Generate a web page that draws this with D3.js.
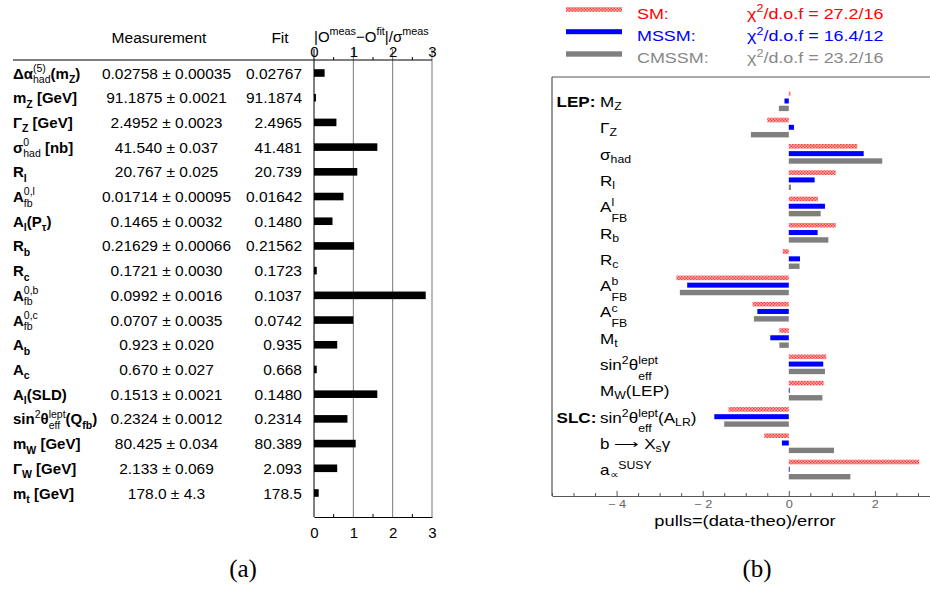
<!DOCTYPE html>
<html lang="en">
<head>
<meta charset="UTF-8">
<script src="https://d3js.org/d3.v7.min.js"></script>
<style>
    body {margin: 0; background: #ffffff}
    svg {display: block; font-family: "Liberation Sans", Arial, sans-serif}
    text {white-space: pre}
</style>
</head>
<body>
<svg id="chart" width="930" height="589"></svg>
<script>
// ---- (a) electroweak observables: measurement, fit, |pull| ----
const obsNames = [
    "Δα^{(5)}_{had}(m_{Z})", "m_{Z} [GeV]", "Γ_{Z} [GeV]", "σ^{0}_{had} [nb]", "R_{l}",
    "A^{0,l}_{fb}", "A_{l}(P_{τ})", "R_{b}", "R_{c}", "A^{0,b}_{fb}", "A^{0,c}_{fb}",
    "A_{b}", "A_{c}", "A_{l}(SLD)", "sin^{2}θ^{lept}_{eff}(Q_{fb})", "m_{W} [GeV]",
    "Γ_{W} [GeV]", "m_{t} [GeV]"
];
const measValue = ["0.02758", "91.1875", "2.4952", "41.540", "20.767", "0.01714", "0.1465",
    "0.21629", "0.1721", "0.0992", "0.0707", "0.923", "0.670", "0.1513", "0.2324",
    "80.425", "2.133", "178.0"];
const measError = ["0.00035", "0.0021", "0.0023", "0.037", "0.025", "0.00095", "0.0032",
    "0.00066", "0.0030", "0.0016", "0.0035", "0.020", "0.027", "0.0021", "0.0012",
    "0.034", "0.069", "4.3"];
const fitValue = ["0.02767", "91.1874", "2.4965", "41.481", "20.739", "0.01642", "0.1480",
    "0.21562", "0.1723", "0.1037", "0.0742", "0.935", "0.668", "0.1480", "0.2314",
    "80.389", "2.093", "178.5"];
const pullAbs = [0.27, 0.05, 0.57, 1.61, 1.10, 0.75, 0.47, 1.02, 0.07, 2.84, 1.00,
    0.59, 0.07, 1.61, 0.85, 1.06, 0.59, 0.12];
const pullAbsTicks = [0, 1, 2, 3];
const pullAbsMinor = [0.5, 1.5, 2.5];

// ---- (b) pulls for SM, MSSM and CMSSM fits ----
const pullNames = [
    "M_{Z}", "Γ_{Z}", "σ_{had}", "R_{l}", "A^{l}_{FB}", "R_{b}", "R_{c}", "A^{b}_{FB}",
    "A^{c}_{FB}", "M_{t}", "sin^{2}θ^{lept}_{eff}", "M_{W}(LEP)",
    "sin^{2}θ^{lept}_{eff}(A_{LR})", "b ⟶ X_{s}γ", "a_{∝}^{SUSY}"
];
const groupLabels = [{row: 0, text: "LEP:"}, {row: 12, text: "SLC:"}];
const smPull    = [0.04, -0.50, 1.59, 1.09, 0.68, 1.09, -0.14, -2.61, -0.84, -0.22, 0.87, 0.81, -1.40, -0.57, 3.03];
const mssmPull  = [-0.10, 0.12, 1.74, 0.60, 0.84, 0.67, 0.26, -2.36, -0.73, -0.43, 0.80, 0.02, -1.73, -0.16, 0.02];
const cmssmPull = [-0.23, -0.88, 2.17, 0.05, 0.74, 0.92, 0.25, -2.53, -0.81, -0.22, 0.84, 0.78, -1.50, 1.05, 1.43];
const modelNames = ["SM:", "MSSM:", "CMSSM:"];
const chi2Values = ["27.2/16", "16.4/12", "23.2/16"];
const pullTicks = [-4, -2, 0, 2];

const svg = d3.select("#chart");

// split "x^{sup}_{sub}" markup into plain / sup / sub runs
function parseMarkup(str) {
    const parts = [];
    let buf = "", i = 0;
    while (i < str.length) {
        const c = str[i];
        if (c === "^" || c === "_") {
            if (buf) { parts.push({t: buf, k: "n"}); buf = ""; }
            let t;
            if (str[i + 1] === "{") {
                const j = str.indexOf("}", i);
                t = str.slice(i + 2, j);
                i = j + 1;
            } else { t = str[i + 1]; i += 2; }
            parts.push({t: t, k: c === "^" ? "sup" : "sub"});
        } else { buf += c; i++; }
    }
    if (buf) parts.push({t: buf, k: "n"});
    return parts;
}

// a sub right after a sup is stacked under it
function richText(text, str, o) {
    const parts = parseMarkup(str);
    let cur = 0, carry = 0, supW = 0;
    parts.forEach(function (p, i) {
        const prev = parts[i - 1];
        const stacked = p.k === "sub" && prev && prev.k === "sup";
        let shift = 0, size = o.size, weight = o.weight;
        if (p.k === "sup") { shift = -o.supShift * o.size; size = o.scale * o.size; weight = o.scriptWeight; }
        if (p.k === "sub") {
            shift = (stacked ? o.stackShift : o.subShift) * o.size;
            size = o.scale * o.size;
            if (stacked) weight = o.scriptWeight;
        }
        const ts = text.append("tspan")
            .attr("dy", shift - cur)
            .attr("font-size", size)
            .attr("font-weight", weight)
            .text(p.t);
        cur = shift;
        if (stacked) ts.attr("dx", -supW);
        else if (carry) ts.attr("dx", carry);
        carry = 0;
        const w = ts.node().getComputedTextLength();
        if (p.k === "sup") supW = w;
        if (stacked && supW > w) carry = supW - w;
    });
}

// ================= panel (a) =================
const xA = d3.scaleLinear().domain([0, 3]).range([314, 432]);
const yA = d3.scalePoint().domain(d3.range(obsNames.length)).range([73, 493]);
const pa = svg.append("g");

pa.append("text").attr("x", 159).attr("y", 42.5).attr("text-anchor", "middle")
    .attr("font-size", 15.5).text("Measurement");
pa.append("text").attr("x", 280).attr("y", 42.5).attr("text-anchor", "middle")
    .attr("font-size", 15.5).text("Fit");
const titleA = pa.append("text").attr("x", 314).attr("y", 41.5).attr("font-size", 15);
richText(titleA, "|O^{meas}−O^{fit}|/σ^{meas}",
    {size: 15, weight: "normal", scriptWeight: "normal", scale: 0.72, supShift: 0.42, subShift: 0.3, stackShift: 0.3});

// vertical grid lines
pa.selectAll(".vgrid").data(pullAbsTicks).enter().append("line")
    .attr("x1", d => xA(d)).attr("x2", d => xA(d))
    .attr("y1", 49).attr("y2", 517)
    .attr("stroke", d => d === 0 ? "#000" : "#777").attr("stroke-width", 1);

// top rule
pa.append("line").attr("x1", 13).attr("x2", xA(3)).attr("y1", 60).attr("y2", 60)
    .attr("stroke", "#000").attr("stroke-width", 1.2);

const topAxis = pa.append("g").attr("transform", "translate(0,60)")
    .call(d3.axisTop(xA).tickValues(pullAbsTicks).tickFormat(d3.format("d")).tickSize(0).tickPadding(3));
topAxis.select(".domain").remove();
topAxis.selectAll("text").attr("font-size", 15).attr("font-family", null).attr("fill", "#000");

const botAxis = pa.append("g").attr("transform", "translate(0,517)")
    .call(d3.axisBottom(xA).tickValues(pullAbsTicks).tickFormat(d3.format("d")).tickSize(0).tickPadding(10));
botAxis.select(".domain").attr("stroke", "#000").attr("stroke-width", 1.2);
botAxis.selectAll("text").attr("font-size", 15).attr("font-family", null).attr("fill", "#000");

// minor ticks top and bottom
pa.selectAll(".minTop").data(pullAbsMinor).enter().append("line")
    .attr("x1", d => xA(d)).attr("x2", d => xA(d)).attr("y1", 60).attr("y2", 57)
    .attr("stroke", "#000");
pa.selectAll(".minBot").data(pullAbsMinor).enter().append("line")
    .attr("x1", d => xA(d)).attr("x2", d => xA(d)).attr("y1", 517).attr("y2", 514)
    .attr("stroke", "#000");

// bars
pa.selectAll(".barA").data(pullAbs).enter().append("rect")
    .attr("x", xA(0))
    .attr("y", (d, i) => yA(i) - 3.8)
    .attr("width", d => xA(d) - xA(0))
    .attr("height", 7.6)
    .attr("fill", "#000");

// row texts
obsNames.forEach(function (name, i) {
    const y = yA(i) + 5.5;
    const t = pa.append("text").attr("x", 13).attr("y", y).attr("font-size", 15).attr("font-weight", "bold");
    richText(t, name, {size: 15, weight: "bold", scriptWeight: "normal", scale: 0.7, supShift: 0.45, subShift: 0.3, stackShift: 0.3});
    pa.append("text").attr("x", 166.5).attr("y", y).attr("text-anchor", "middle")
        .attr("font-size", 15.5).text(measValue[i] + " ± " + measError[i]);
    pa.append("text").attr("x", 302).attr("y", y).attr("text-anchor", "end")
        .attr("font-size", 15.5).text(fitValue[i]);
});

svg.append("text").attr("x", 243).attr("y", 577).attr("text-anchor", "middle")
    .attr("font-family", "'Liberation Serif', 'DejaVu Serif', serif").attr("font-size", 25).text("(a)");

// ================= panel (b) =================
const SX = 1.22; // glyphs in this panel are wide
const xB = d3.scaleLinear().domain([-5.5, 3.28]).range([552, 930]);
const yB = d3.scalePoint().domain(d3.range(pullNames.length)).range([101, 469.3]);
const pb = svg.append("g");

const defs = svg.append("defs");
const hatch = defs.append("pattern").attr("id", "smHatch")
    .attr("patternUnits", "userSpaceOnUse").attr("width", 3).attr("height", 3);
hatch.append("rect").attr("width", 3).attr("height", 3).attr("fill", "#ffb4b4");
hatch.append("rect").attr("width", 1.5).attr("height", 1.5).attr("fill", "#ff3a3a");
hatch.append("rect").attr("x", 1.5).attr("y", 1.5).attr("width", 1.5).attr("height", 1.5).attr("fill", "#ff3a3a");
defs.append("filter").attr("id", "soft").attr("x", "-5%").attr("y", "-50%").attr("width", "110%").attr("height", "200%")
    .append("feGaussianBlur").attr("stdDeviation", 0.45);

const seriesStyle = [
    {vals: smPull,    fill: "url(#smHatch)", off: -7.3, h: 4.6, text: "#ff0000", filter: null},
    {vals: mssmPull,  fill: "#0000ff",       off: 0,    h: 5.0, text: "#0000ff", filter: null},
    {vals: cmssmPull, fill: "#7f7f7f",       off: 7.4,  h: 5.4, text: "#888888", filter: "url(#soft)"}
];

function wideText(g, x, y, size) {
    return g.append("text")
        .attr("transform", "translate(" + x + "," + y + ") scale(" + SX + ",1)")
        .attr("font-size", size);
}

// legend
const legendY = [9.5, 31.7, 54];
seriesStyle.forEach(function (s, i) {
    pb.append("rect").attr("x", 566).attr("y", legendY[i] - s.h / 2)
        .attr("width", 56).attr("height", s.h).attr("fill", s.fill).attr("filter", s.filter);
    wideText(pb, 637, legendY[i] + 9, 14.7).attr("fill", s.text).text(modelNames[i]);
    const t = wideText(pb, 747, legendY[i] + 9, 14.7).attr("fill", s.text);
    richText(t, "χ^{2}/d.o.f = " + chi2Values[i],
        {size: 14.7, weight: "normal", scriptWeight: "normal", scale: 0.7, supShift: 0.42, subShift: 0.25, stackShift: 0.6});
});

// frame
pb.append("line").attr("x1", 552).attr("x2", 930).attr("y1", 77).attr("y2", 77)
    .attr("stroke", "#555").attr("stroke-width", 1.2);
pb.append("line").attr("x1", 552).attr("x2", 552).attr("y1", 77).attr("y2", 496)
    .attr("stroke", "#555").attr("stroke-width", 1.2);

const axB = pb.append("g").attr("transform", "translate(0,496)")
    .call(d3.axisBottom(xB).tickValues(pullTicks)
        .tickFormat(d => d < 0 ? "− " + (-d) : String(d))
        .tickSizeInner(-5).tickSizeOuter(0).tickPadding(5));
axB.select(".domain").attr("stroke", "#555").attr("stroke-width", 1.2);
axB.selectAll(".tick line").attr("stroke", "#555");
axB.selectAll("text").attr("font-size", 10.5).attr("font-family", null).attr("fill", "#666")
    .attr("transform", "scale(" + SX + ",1)");

const minorB = d3.range(-5.5, 3.3, 0.5).filter(d => pullTicks.indexOf(d) < 0);
const axMinor = pb.append("g").attr("transform", "translate(0,496)")
    .call(d3.axisBottom(xB).tickValues(minorB).tickFormat("").tickSizeInner(-3).tickSizeOuter(0));
axMinor.select(".domain").remove();
axMinor.selectAll(".tick line").attr("stroke", "#555");

wideText(pb, 745, 526, 15).attr("text-anchor", "middle").text("pulls=(data-theo)/error");

// bars
seriesStyle.forEach(function (s) {
    pb.append("g").attr("filter", s.filter).selectAll("rect").data(s.vals).enter().append("rect")
        .attr("x", d => xB(Math.min(0, d)))
        .attr("y", (d, i) => yB(i) + s.off - s.h / 2)
        .attr("width", d => Math.abs(xB(d) - xB(0)))
        .attr("height", s.h)
        .attr("fill", s.fill);
});

// row labels
pullNames.forEach(function (name, i) {
    const t = wideText(pb, 600, yB(i) + 6, 14);
    richText(t, name, {size: 14, weight: "normal", scriptWeight: "normal", scale: 0.72, supShift: 0.42, subShift: 0.22, stackShift: 0.68});
});
groupLabels.forEach(function (g) {
    wideText(pb, 556.5, yB(g.row) + 6, 14).attr("font-weight", "bold").text(g.text);
});

svg.append("text").attr("x", 757).attr("y", 577).attr("text-anchor", "middle")
    .attr("font-family", "'Liberation Serif', 'DejaVu Serif', serif").attr("font-size", 25).text("(b)");
</script>
</body>
</html>
